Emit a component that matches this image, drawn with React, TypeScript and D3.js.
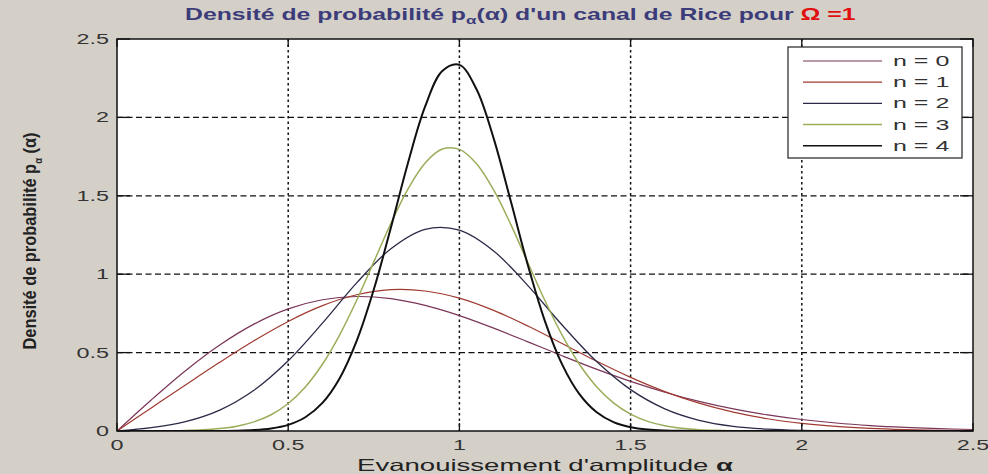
import React, { useEffect } from 'react';
import * as d3 from 'd3';

// ---- data ----
const alphaCoarse = [0, 0.1, 0.2, 0.3, 0.4, 0.5, 0.6, 0.7, 0.8, 0.9, 1.0, 1.1, 1.2, 1.3, 1.4, 1.5, 1.6, 1.7, 1.8, 1.9, 2.0, 2.1, 2.2, 2.3, 2.4, 2.5];
const alphaFine = [0, 0.05, 0.1, 0.15, 0.2, 0.25, 0.3, 0.35, 0.4, 0.45, 0.5, 0.55, 0.6, 0.65, 0.7, 0.75, 0.8, 0.85, 0.9, 0.95, 1.0, 1.05, 1.1, 1.15, 1.2, 1.25, 1.3, 1.35, 1.4, 1.45, 1.5, 1.55, 1.6, 1.65, 1.7, 1.75, 1.8, 1.85, 1.9, 1.95, 2.0, 2.05, 2.1, 2.15, 2.2, 2.25, 2.3, 2.35, 2.4, 2.45, 2.5];

const densityN0 = [0, 0.198, 0.3843, 0.5484, 0.6817, 0.7788, 0.8372, 0.8577, 0.8437, 0.8007, 0.7358, 0.656, 0.5686, 0.4798, 0.3944, 0.3162, 0.2474, 0.189, 0.141, 0.1028, 0.0733, 0.0511, 0.0348, 0.0232, 0.0151, 0.0097];
const densityN1 = [0, 0.1471, 0.2938, 0.4382, 0.5755, 0.6989, 0.7996, 0.869, 0.901, 0.8929, 0.8472, 0.7691, 0.6692, 0.5581, 0.4462, 0.3421, 0.2515, 0.1774, 0.1201, 0.078, 0.0486, 0.0291, 0.0167, 0.0092, 0.0049, 0.0025];
const densityN2 = [0, 0.0211, 0.0592, 0.1328, 0.2593, 0.4476, 0.6876, 0.9443, 1.1629, 1.2865, 1.2805, 1.1479, 0.9275, 0.6758, 0.4443, 0.2637, 0.1413, 0.0684, 0.0299, 0.0118, 0.0042, 0.0014, 0.0004, 0.0001, 0, 0];
const densityN3 = [0, 0.0001, 0.0005, 0.0013, 0.0031, 0.0072, 0.0153, 0.0307, 0.0581, 0.1038, 0.1754, 0.2807, 0.4255, 0.6116, 0.8338, 1.0788, 1.3247, 1.5444, 1.7099, 1.7981, 1.7963, 1.7048, 1.5374, 1.3175, 1.0729, 0.8305, 0.611, 0.4273, 0.2841, 0.1795, 0.1079, 0.0616, 0.0335, 0.0173, 0.0085, 0.004, 0.0018, 0.0007, 0.0003, 0.0001, 0, 0, 0, 0, 0, 0, 0, 0, 0, 0, 0];
const densityN4 = [0, 0, 0, 0, 0, 0.0002, 0.0006, 0.002, 0.006, 0.0161, 0.0393, 0.0878, 0.1793, 0.3354, 0.5747, 0.902, 1.2975, 1.7113, 2.0696, 2.2955, 2.3352, 2.1794, 1.8661, 1.4662, 1.0571, 0.6996, 0.4248, 0.2367, 0.1211, 0.0569, 0.0245, 0.0097, 0.0035, 0.0012, 0.0004, 0.0001, 0, 0, 0, 0, 0, 0, 0, 0, 0, 0, 0, 0, 0, 0, 0];

const legendLabels = ['n = 0', 'n = 1', 'n = 2', 'n = 3', 'n = 4'];
const xTickValues = [0, 0.5, 1, 1.5, 2, 2.5];
const yTickValues = [0, 0.5, 1, 1.5, 2, 2.5];
const xTickLabels = ['0', '0.5', '1', '1.5', '2', '2.5'];
const yTickLabels = ['0', '0.5', '1', '1.5', '2', '2.5'];

// ---- layout ----
const W = 988;
const H = 474;
const PL = 117, PT = 39, PR = 973, PB = 431;
const SX = 1.67; // horizontal stretch of the reference picture
const TITLE_SX = 1.55;
const FONT = "'Liberation Sans', Arial, Helvetica, sans-serif";

export default function App() {
  useEffect(() => {
    document.body.style.margin = '0';
    document.body.style.overflow = 'hidden';
  }, []);

  const x = d3.scaleLinear().domain([0, 2.5]).range([PL, PR]);
  const y = d3.scaleLinear().domain([0, 2.5]).range([PB, PT]);

  const series = [
    { label: legendLabels[0], xs: alphaCoarse, ys: densityN0, color: '#7a3558', width: 1.2 },
    { label: legendLabels[1], xs: alphaCoarse, ys: densityN1, color: '#a03a30', width: 1.2 },
    { label: legendLabels[2], xs: alphaCoarse, ys: densityN2, color: '#2a2a48', width: 1.3 },
    { label: legendLabels[3], xs: alphaFine, ys: densityN3, color: '#9aae5a', width: 1.5 },
    { label: legendLabels[4], xs: alphaFine, ys: densityN4, color: '#111111', width: 2 },
  ];

  const pathFor = (xs: number[], ys: number[]) =>
    d3
      .line<number>()
      .x((_, i) => x(xs[i]))
      .y((d) => y(d))
      .curve(d3.curveCatmullRom.alpha(0.5))(ys) || '';

  const gridX = xTickValues.filter((v) => v > 0 && v < 2.5);
  const gridY = yTickValues.filter((v) => v > 0 && v < 2.5);

  const legX0 = 788, legY0 = 47, legX1 = 962, legY1 = 158;
  const rowY = (i: number) => 61 + i * 21.2;

  return (
    <svg width={W} height={H} style={{ position: 'absolute', left: 0, top: 0, display: 'block' }} fontFamily={FONT}>
      <rect x={0} y={0} width={W} height={H} fill="#d4d0c8" />
      <rect x={PL} y={PT} width={PR - PL} height={PB - PT} fill="#ffffff" />

      <defs>
        <clipPath id="plotClip">
          <rect x={PL} y={PT} width={PR - PL} height={PB - PT} />
        </clipPath>
      </defs>

      {/* grid */}
      {gridX.map((v) => (
        <line key={'gx' + v} x1={x(v)} x2={x(v)} y1={PT} y2={PB} stroke="#111" strokeWidth={1.5} strokeDasharray="2.5,3" />
      ))}
      {gridY.map((v) => (
        <line key={'gy' + v} x1={PL} x2={PR} y1={y(v)} y2={y(v)} stroke="#111" strokeWidth={1.2} strokeDasharray="6,3.5" />
      ))}

      {/* curves */}
      <g clipPath="url(#plotClip)">
        {series.map((s) => (
          <path key={s.label} d={pathFor(s.xs, s.ys)} fill="none" stroke={s.color} strokeWidth={s.width} strokeLinejoin="round" />
        ))}
      </g>

      {/* axes box */}
      <rect x={PL} y={PT} width={PR - PL} height={PB - PT} fill="none" stroke="#111" strokeWidth={1.5} />

      {/* ticks */}
      {xTickValues.map((v) => (
        <g key={'xt' + v}>
          <line x1={x(v)} x2={x(v)} y1={PB} y2={PB - 8} stroke="#111" strokeWidth={1.3} />
          <line x1={x(v)} x2={x(v)} y1={PT} y2={PT + 8} stroke="#111" strokeWidth={1.3} />
        </g>
      ))}
      {yTickValues.map((v) => (
        <g key={'yt' + v}>
          <line x1={PL} x2={PL + 13} y1={y(v)} y2={y(v)} stroke="#111" strokeWidth={1.3} />
          <line x1={PR} x2={PR - 13} y1={y(v)} y2={y(v)} stroke="#111" strokeWidth={1.3} />
        </g>
      ))}

      {/* tick labels */}
      {xTickValues.map((v, i) => (
        <text key={'xl' + v} transform={`translate(${x(v)},${450}) scale(${SX},1)`} textAnchor="middle" fontSize={14} fill="#333">
          {xTickLabels[i]}
        </text>
      ))}
      {yTickValues.map((v, i) => (
        <text key={'yl' + v} transform={`translate(${109},${y(v) + 5}) scale(${SX},1)`} textAnchor="end" fontSize={14} fill="#333">
          {yTickLabels[i]}
        </text>
      ))}

      {/* title */}
      <text transform={`translate(185,20) scale(${TITLE_SX},1)`} textAnchor="start" fontSize={16} fontWeight="bold" fill="#3c3c7a">
        Densité de probabilité p
        <tspan fontSize={11} dy={4}>α</tspan>
        <tspan dy={-4}>(α) d'un canal de Rice pour </tspan>
        <tspan fill="#e01010">Ω =1</tspan>
      </text>

      {/* x label */}
      <text transform={`translate(545,471) scale(${SX},1)`} textAnchor="middle" fontSize={16.5} fill="#222">
        Evanouissement d'amplitude <tspan fontWeight="bold">α</tspan>
      </text>

      {/* y label */}
      <text
        transform="translate(36,241) rotate(-90)"
        textAnchor="middle"
        fontSize={19}
        fontWeight="bold"
        fill="#222"
        textLength={217}
        lengthAdjust="spacingAndGlyphs"
      >
        Densité de probabilité p<tspan fontSize={11} dy={6}>α</tspan>
        <tspan dy={-6}> (α)</tspan>
      </text>

      {/* legend */}
      <rect x={legX0} y={legY0} width={legX1 - legX0} height={legY1 - legY0} fill="#ffffff" stroke="#333" strokeWidth={1.3} />
      {series.map((s, i) => (
        <g key={'lg' + i}>
          <line x1={803} x2={882} y1={rowY(i)} y2={rowY(i)} stroke={s.color} strokeWidth={Math.min(s.width, 1.5)} />
          <text transform={`translate(893,${rowY(i) + 5}) scale(${SX},1)`} fontSize={15} fill="#333">
            {s.label}
          </text>
        </g>
      ))}
    </svg>
  );
}
